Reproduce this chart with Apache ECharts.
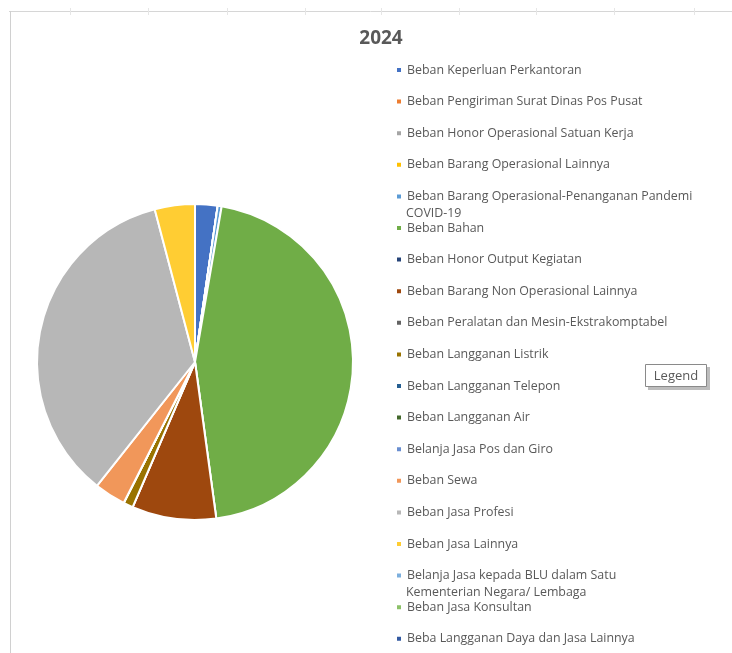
<!DOCTYPE html>
<html>
<head>
<meta charset="utf-8">
<script src="https://cdn.jsdelivr.net/npm/echarts@6/dist/echarts.min.js"></script>
<style>
html,body{margin:0;padding:0;background:#fff;}
#chart{width:732px;height:653px;}
</style>
</head>
<body>
<div id="chart"></div>
<script>
const title = '2024';
const categories = [
  'Beban Keperluan Perkantoran',
  'Beban Pengiriman Surat Dinas Pos Pusat',
  'Beban Honor Operasional Satuan Kerja',
  'Beban Barang Operasional Lainnya',
  'Beban Barang Operasional-Penanganan Pandemi COVID-19',
  'Beban Bahan',
  'Beban Honor Output Kegiatan',
  'Beban Barang Non Operasional Lainnya',
  'Beban Peralatan dan Mesin-Ekstrakomptabel',
  'Beban Langganan Listrik',
  'Beban Langganan Telepon',
  'Beban Langganan Air',
  'Belanja Jasa Pos dan Giro',
  'Beban Sewa',
  'Beban Jasa Profesi',
  'Beban Jasa Lainnya',
  'Belanja Jasa kepada BLU dalam Satu Kementerian Negara/ Lembaga',
  'Beban Jasa Konsultan',
  'Beba Langganan Daya dan Jasa Lainnya'
];
// share of total (%)
const values = [2.3, 0, 0, 0, 0.4, 45.1, 0, 8.6, 0, 1.0, 0, 0, 0, 3.2, 35.2, 4.1, 0, 0, 0];
// first legend line / second line for the two-line entries
const wrapBreaks = {
  'Beban Barang Operasional-Penanganan Pandemi COVID-19': ['Beban Barang Operasional-Penanganan Pandemi', 'COVID-19'],
  'Belanja Jasa kepada BLU dalam Satu Kementerian Negara/ Lembaga': ['Belanja Jasa kepada BLU dalam Satu', 'Kementerian Negara/ Lembaga']
};
const palette = ['#4472C4','#ED7D31','#A5A5A5','#FFC000','#5B9BD5','#70AD47','#264478','#9E480E','#636363','#997300','#255E91','#43682B','#698ED0','#F1975A','#B7B7B7','#FFCD33','#7CAFDD','#8CC168','#335AA1'];

const FONT = '"Open Sans", "Noto Sans", sans-serif';
const TXT = '#595959';
const legendTop = 63, pitch = 31.6, lineH = 14, fs = 12.4;

const chart = echarts.init(document.getElementById('chart'), null, {renderer: 'canvas'});

const graphics = [];
// spreadsheet frame lines
graphics.push({type: 'line', shape: {x1: 9, y1: 11.5, x2: 732, y2: 11.5}, style: {stroke: '#d6d6d6', lineWidth: 1}, silent: true});
graphics.push({type: 'line', shape: {x1: 10.5, y1: 11, x2: 10.5, y2: 653}, style: {stroke: '#d0d0d0', lineWidth: 1}, silent: true});
[70, 148, 227, 305, 381, 459, 536, 614, 694].forEach(function (x) {
  graphics.push({type: 'line', shape: {x1: x + 0.5, y1: 8, x2: x + 0.5, y2: 15}, style: {stroke: '#e6e6e6', lineWidth: 1}, silent: true});
});
// second lines of wrapped legend entries
categories.forEach(function (c, i) {
  if (wrapBreaks[c]) {
    graphics.push({
      type: 'text', x: 406, y: legendTop + 7 + i * pitch + 17, silent: true,
      style: {text: wrapBreaks[c][1], font: fs + 'px ' + FONT, fill: TXT, verticalAlign: 'middle', align: 'left'}
    });
  }
});
// "Legend" tooltip box
graphics.push({type: 'rect', shape: {x: 648, y: 367, width: 62, height: 23}, style: {fill: '#bdbdbd'}, silent: true});
graphics.push({type: 'rect', shape: {x: 645.5, y: 364.5, width: 61, height: 22}, style: {fill: '#fff', stroke: '#8a8a8a', lineWidth: 1}, silent: true});
graphics.push({type: 'text', x: 676, y: 376, silent: true, style: {text: 'Legend', font: '13px ' + FONT, fill: TXT, align: 'center', verticalAlign: 'middle'}});

chart.setOption({
  backgroundColor: '#fff',
  color: palette,
  animation: false,
  title: {
    text: title, left: 376, top: 24, textAlign: 'center',
    textStyle: {fontFamily: FONT, fontWeight: 'bold', fontSize: 19, color: TXT}
  },
  legend: {
    orient: 'vertical', left: 395, top: legendTop, bottom: 0, padding: 0,
    icon: 'rect', itemWidth: 6, itemHeight: 6, itemGap: pitch - lineH,
    selectedMode: false,
    data: categories,
    formatter: function (name) { return wrapBreaks[name] ? wrapBreaks[name][0] : name; },
    textStyle: {fontFamily: FONT, fontSize: fs, color: TXT, lineHeight: lineH}
  },
  graphic: graphics,
  series: [{
    type: 'pie',
    center: [195, 362],
    radius: 158,
    startAngle: 90,
    clockwise: true,
    avoidLabelOverlap: false,
    label: {show: false},
    labelLine: {show: false},
    emphasis: {disabled: true},
    itemStyle: {borderColor: '#fff', borderWidth: 2},
    data: categories.map(function (c, i) { return {name: c, value: values[i]}; })
  }]
});
</script>
</body>
</html>
